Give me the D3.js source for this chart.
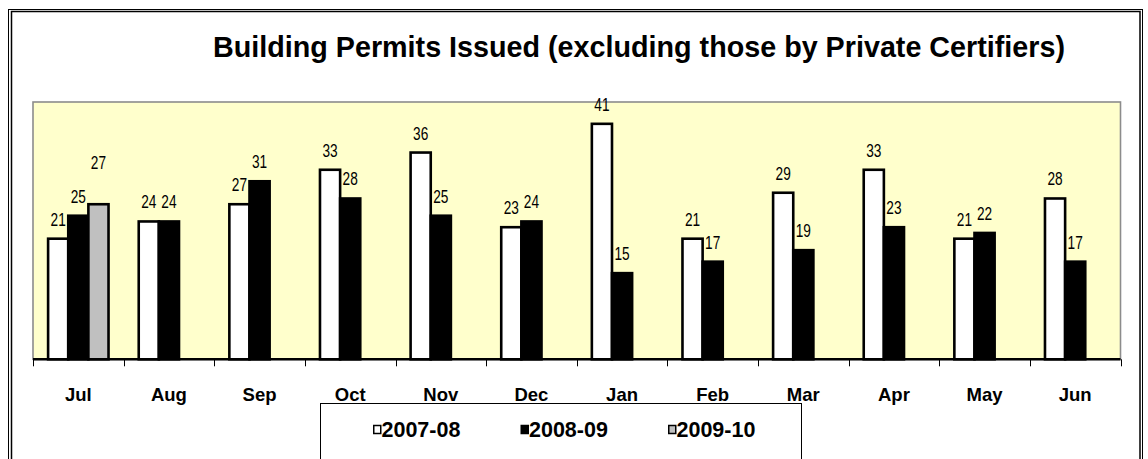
<!DOCTYPE html>
<html>
<head>
<meta charset="utf-8">
<script src="https://cdn.jsdelivr.net/npm/d3@7"></script>
<style>
  html, body { margin: 0; padding: 0; background: #ffffff; }
  svg { display: block; font-family: "Liberation Sans", Arial, sans-serif; }
</style>
</head>
<body>
<svg id="chart" width="1148" height="459"></svg>
<script>
// ---- data ----
const categories = ["Jul","Aug","Sep","Oct","Nov","Dec","Jan","Feb","Mar","Apr","May","Jun"];
const seriesNames = ["2007-08","2008-09","2009-10"];
const values2007_08 = [21,24,27,33,36,23,41,21,29,33,21,28];
const values2008_09 = [25,24,31,28,25,24,15,17,19,23,22,17];
const values2009_10 = [27,null,null,null,null,null,null,null,null,null,null,null];
const titleText = "Building Permits Issued (excluding those by Private Certifiers)";
const yMax = 44.8;

const seriesValues = [values2007_08, values2008_09, values2009_10];
const seriesFill = ["#ffffff", "#000000", "#c0c0c0"];

const svg = d3.select("#chart");

// outer double frame
svg.append("rect").attr("x", 8.5).attr("y", 9.5).attr("width", 1134).attr("height", 520)
  .attr("fill", "none").attr("stroke", "#000").attr("stroke-width", 1);
svg.append("rect").attr("x", 11.5).attr("y", 11.5).attr("width", 1128.5).attr("height", 520)
  .attr("fill", "none").attr("stroke", "#000").attr("stroke-width", 1.5);

// title
svg.append("text")
  .attr("x", 639).attr("y", 57)
  .attr("text-anchor", "middle")
  .attr("font-size", "28.6px").attr("font-weight", "bold").attr("fill", "#000")
  .attr("textLength", 852).attr("lengthAdjust", "spacingAndGlyphs")
  .text(titleText);

// plot area
const plot = { left: 33, right: 1120.5, top: 102, bottom: 359.3 };

svg.append("rect")
  .attr("x", plot.left).attr("y", plot.top)
  .attr("width", plot.right - plot.left).attr("height", plot.bottom - plot.top)
  .attr("fill", "#ffffcc").attr("stroke", "#8c8c8c").attr("stroke-width", 1.6);

const x0 = d3.scaleBand().domain(categories).range([plot.left, plot.right])
  .paddingInner(1/3).paddingOuter(1/6);
const x1 = d3.scaleBand().domain(seriesNames).range([0, x0.bandwidth()]);
const y = d3.scaleLinear().domain([0, yMax]).range([plot.bottom, plot.top]);

// bars
const barData = [];
seriesNames.forEach((s, si) => {
  categories.forEach((c, ci) => {
    const v = seriesValues[si][ci];
    if (v !== null && v !== undefined) barData.push({ s, si, c, v });
  });
});

svg.append("g").selectAll("rect")
  .data(barData)
  .join("rect")
  .attr("x", d => x0(d.c) + x1(d.s))
  .attr("y", d => y(d.v))
  .attr("width", x1.bandwidth())
  .attr("height", d => y(0) - y(d.v))
  .attr("fill", d => seriesFill[d.si])
  .attr("stroke", "#000")
  .attr("stroke-width", 2.6);

// data labels (tall, narrow digits as in the original)
svg.append("g").selectAll("text")
  .data(barData)
  .join("text")
  .attr("x", d => x0(d.c) + x1(d.s) + x1.bandwidth() / 2)
  .attr("y", d => y(d.v) - (d.si === 2 ? 35 : 13))
  .attr("text-anchor", "middle")
  .attr("font-size", "17.5px")
  .attr("fill", "#000")
  .attr("textLength", d => String(d.v).length * 7.6)
  .attr("lengthAdjust", "spacingAndGlyphs")
  .text(d => d.v);

// x axis
const axis = svg.append("g");
axis.append("line")
  .attr("x1", plot.left).attr("x2", plot.right)
  .attr("y1", plot.bottom).attr("y2", plot.bottom)
  .attr("stroke", "#000").attr("stroke-width", 2.6);

const tickXs = categories.map(c => x0(c) - x0.step() * x0.paddingInner() / 2).concat([plot.right]);
axis.selectAll("line.tick")
  .data(tickXs)
  .join("line")
  .attr("class", "tick")
  .attr("x1", d => Math.round(d) + 0.5).attr("x2", d => Math.round(d) + 0.5)
  .attr("y1", plot.bottom).attr("y2", plot.bottom + 7)
  .attr("stroke", "#000").attr("stroke-width", 1);

axis.selectAll("text")
  .data(categories)
  .join("text")
  .attr("x", c => x0(c) + x0.bandwidth() / 2)
  .attr("y", 401)
  .attr("text-anchor", "middle")
  .attr("font-size", "18.5px").attr("font-weight", "bold").attr("fill", "#000")
  .text(c => c);

// legend
const legend = svg.append("g");
legend.append("rect")
  .attr("x", 320.5).attr("y", 403.5).attr("width", 481).attr("height", 80)
  .attr("fill", "#fff").attr("stroke", "#000").attr("stroke-width", 1);

const lx = d3.scalePoint().domain(seriesNames).range([373, 668]);
const items = legend.selectAll("g.item").data(seriesNames).join("g").attr("class", "item");
items.append("rect")
  .attr("x", s => lx(s) + 0.75).attr("y", 425.5)
  .attr("width", 7).attr("height", 8)
  .attr("fill", (s, i) => seriesFill[i])
  .attr("stroke", "#000").attr("stroke-width", 1.5);
items.append("text")
  .attr("x", s => lx(s) + 8.5).attr("y", 436.7)
  .attr("font-size", "21.5px").attr("font-weight", "bold").attr("fill", "#000")
  .text(s => s);
</script>
</body>
</html>
